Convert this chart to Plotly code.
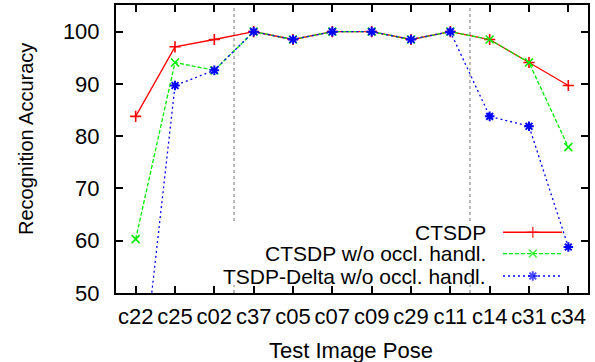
import plotly.graph_objects as go

poses = ["c22", "c25", "c02", "c37", "c05", "c07", "c09", "c29", "c11", "c14", "c31", "c34"]
ctsdp = [83.8, 97.1, 98.5, 100, 98.5, 100, 100, 98.5, 100, 98.5, 94.1, 89.7]
ctsdp_noocc = [60.3, 94.1, 92.6, 100, 98.5, 100, 100, 98.5, 100, 98.5, 94.1, 77.9]
tsdp_delta_noocc = [22.5, 89.7, 92.6, 100, 98.5, 100, 100, 98.5, 100, 83.8, 81.9, 58.8]
series_names = ["CTSDP", "CTSDP w/o occl. handl.", "TSDP-Delta w/o occl. handl."]
y_ticks = [50, 60, 70, 80, 90, 100]
divider_positions = [2.5, 8.5]

FONT = "Liberation Sans, Arial, sans-serif"
FS = 22
W, H = 595, 362
L, R, T, B = 116, 7, 3, 69

styles = [
    dict(color="#ff0000", dash="solid", symbol="cross-thin-open", lw=1.6),
    dict(color="#00ee00", dash="4px,2px", symbol="x-thin-open", lw=1.6),
    dict(color="#0000ff", dash="2px,3px", symbol="asterisk-open", lw=2),
]

fig = go.Figure()
for name, vals, st in zip(series_names, [ctsdp, ctsdp_noocc, tsdp_delta_noocc], styles):
    fig.add_trace(go.Scatter(
        x=poses, y=vals, mode="lines+markers", name=name, showlegend=False,
        line=dict(color=st["color"], width=1.3, dash=st["dash"]),
        marker=dict(symbol=st["symbol"], size=8, color=st["color"],
                    line=dict(color=st["color"], width=st["lw"])),
        cliponaxis=True,
    ))

# custom legend (text right-aligned, sample to the right), on an overlay 0..1 axis pair
row_y = [0.211, 0.137, 0.059]
sx0, sxm, sx1 = 0.820, 0.883, 0.945
for name, st, ry in zip(series_names, styles, row_y):
    fig.add_trace(go.Scatter(
        x=[sx0, sxm, sx1], y=[ry, ry, ry], mode="lines+markers", showlegend=False,
        xaxis="x2", yaxis="y2", hoverinfo="skip",
        line=dict(color=st["color"], width=1.3, dash=st["dash"]),
        marker=dict(symbol=st["symbol"], size=[0, 8, 0], color=st["color"],
                    line=dict(color=st["color"], width=st["lw"])),
    ))
    fig.add_annotation(xref="paper", yref="paper", x=0.788, y=ry, text=name,
                       showarrow=False, xanchor="right", yanchor="middle",
                       font=dict(family=FONT, size=21, color="black"))

shapes = []
for xp in divider_positions:
    shapes.append(dict(type="line", xref="x", yref="paper", x0=xp, x1=xp, y0=0, y1=1,
                       line=dict(color="#777777", width=1, dash="dot"), layer="below"))
# opaque legend box
shapes.append(dict(type="rect", xref="paper", yref="paper", x0=0.189, x1=0.953,
                   y0=0.028, y1=0.248, fillcolor="white", line=dict(width=0), layer="below"))

fig.add_annotation(xref="paper", yref="paper", x=0, xshift=-(L - 26), y=0.5, yshift=10,
                   text="Recognition Accuracy", textangle=-90, showarrow=False,
                   xanchor="center", yanchor="middle",
                   font=dict(family=FONT, size=20, color="black"))
fig.add_annotation(xref="paper", yref="paper", x=(351 - L) / (W - L - R), y=0, yshift=-(350 - 293),
                   text="Test Image Pose", showarrow=False, xanchor="center", yanchor="middle",
                   font=dict(family=FONT, size=FS, color="black"))

axis_common = dict(showline=True, linecolor="black", linewidth=2, mirror="allticks",
                   ticks="inside", ticklen=7, tickwidth=1.5, tickcolor="black",
                   showgrid=False, zeroline=False,
                   tickfont=dict(family=FONT, size=FS, color="black"))

fig.update_layout(
    width=W, height=H, margin=dict(l=L, r=R, t=T, b=B),
    paper_bgcolor="white", plot_bgcolor="white",
    font=dict(family=FONT, size=FS, color="black"),
    shapes=shapes,
    xaxis=dict(type="category", categoryorder="array", categoryarray=poses,
               range=[-0.5, 11.5], ticklabelstandoff=3, **axis_common),
    yaxis=dict(range=[50, 105.1], tickvals=y_ticks, ticklabelstandoff=10, **axis_common),
    xaxis2=dict(overlaying="x", range=[0, 1], visible=False, fixedrange=True),
    yaxis2=dict(overlaying="y", range=[0, 1], visible=False, fixedrange=True),
    showlegend=False,
)

fig.write_html("out.html", config={"displayModeBar": False},
               post_script="document.body.style.margin='0';document.body.style.padding='0';")
